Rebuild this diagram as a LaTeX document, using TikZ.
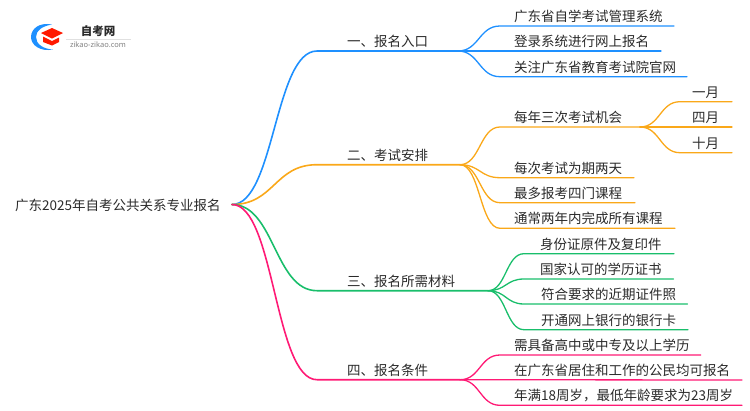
\documentclass[tikz,border=0pt]{standalone}
\usepackage{fontspec}
\setmainfont{Noto Sans CJK SC}
\setsansfont{Noto Sans}
\definecolor{cblue}{HTML}{1E90FF}
\definecolor{corange}{HTML}{FAA819}
\definecolor{cgreen}{HTML}{19BE6B}
\definecolor{cpink}{HTML}{FF1A75}
\definecolor{ctext}{HTML}{2A2A2A}
\tikzset{
  x=1pt,y=-1pt,
  lbl/.style={font=\fontsize{13.5}{14}\selectfont,text=ctext,inner sep=0pt,anchor=base west},
  link/.style={line width=1.3pt,line cap=round},
  trunk/.style={line width=1.6pt,line cap=round},
}
\begin{document}
\begin{tikzpicture}
\useasboundingbox (0,0) rectangle (750,410);
% logo
\fill[cblue] (52,24.5) .. controls (39,22) and (31,29) .. (31,37) .. controls (31,45) and (40,52) .. (53,49.5) .. controls (43,49) and (36,44) .. (36,37) .. controls (36,30) and (43,26) .. (52,24.5) -- cycle;
\fill[red!80!orange] (41,33) -- (52,28) -- (63,33) -- (52,38.5) -- cycle;
\fill[red!80!orange] (43,36.5) -- (52,41) -- (59,37.5) -- (59,42) -- (52,45.5) -- (43,42) -- cycle;
\node[font=\fontsize{11.5}{12}\selectfont\bfseries,text=ctext,inner sep=0pt] (logotitle) at (98,31) {自考网};
\node[font=\sffamily\fontsize{7.5}{8}\selectfont,text=gray,inner sep=0pt] (logourl) at (98,45) {zikao-zikao.com};
\draw[black!12,line width=.6pt] (66,39) -- (131,39);
% root
\node[lbl] (root) at (15,210) {广东2025年自考公共关系专业报名};
\coordinate (R) at (232,204.5);
% level one
\coordinate (A0) at (317,51); \coordinate (A) at (458,51);
\coordinate (B0) at (317,164.7); \coordinate (B) at (460,164.7);
\coordinate (C0) at (317,290.7); \coordinate (C) at (488,290.7);
\coordinate (D0) at (317,379.7); \coordinate (D) at (460,379.7);
\node[lbl] (a) at (347,46.5) {一、报名入口};
\node[lbl] (b) at (347,160.5) {二、考试安排};
\node[lbl] (c) at (347,286.5) {三、报名所需材料};
\node[lbl] (d) at (347,375.5) {四、报名条件};
\draw[trunk,cblue] (R) .. controls +(42.5,0) and +(-42.5,0) .. (A0) -- (A);
\draw[trunk,corange] (R) .. controls +(42.5,0) and +(-42.5,0) .. (B0) -- (B);
\draw[trunk,cgreen] (R) .. controls +(42.5,0) and +(-42.5,0) .. (C0) -- (C);
\draw[trunk,cpink] (R) .. controls +(42.5,0) and +(-42.5,0) .. (D0) -- (D);
% blue leaves
\node[lbl] (a1) at (514,21.5) {广东省自学考试管理系统};
\node[lbl] (a2) at (514,46.5) {登录系统进行网上报名};
\node[lbl] (a3) at (514,72.5) {关注广东省教育考试院官网};
\coordinate (a1s) at (500,26); \coordinate (a1e) at (674,26);
\coordinate (a2e) at (661,51);
\coordinate (a3s) at (500,76.7); \coordinate (a3e) at (687,76.7);
\draw[link,cblue] (A) .. controls +(21,0) and +(-21,0) .. (a1s) -- (a1e);
\draw[link,cblue] (A) -- (a2e);
\draw[link,cblue] (A) .. controls +(21,0) and +(-21,0) .. (a3s) -- (a3e);
% orange leaves
\node[lbl] (b1) at (514,122.5) {每年三次考试机会};
\node[lbl] (b2) at (514,173) {每次考试为期两天};
\node[lbl] (b3) at (514,198) {最多报考四门课程};
\node[lbl] (b4) at (514,223.5) {通常两年内完成所有课程};
\coordinate (b1s) at (500,127); \coordinate (b1e) at (640,127);
\coordinate (b2s) at (500,177.7); \coordinate (b2e) at (634,177.7);
\coordinate (b3s) at (500,202.7); \coordinate (b3e) at (635,202.7);
\coordinate (b4s) at (500,228.3); \coordinate (b4e) at (675,228.3);
\draw[link,corange] (B) .. controls +(20,0) and +(-20,0) .. (b1s) -- (b1e);
\draw[link,corange] (B) .. controls +(20,0) and +(-20,0) .. (b2s) -- (b2e);
\draw[link,corange] (B) .. controls +(20,0) and +(-20,0) .. (b3s) -- (b3e);
\draw[link,corange] (B) .. controls +(20,0) and +(-20,0) .. (b4s) -- (b4e);
% months
\node[lbl] (m1) at (692,97) {一月};
\node[lbl] (m2) at (692,122.5) {四月};
\node[lbl] (m3) at (692,148) {十月};
\coordinate (m1s) at (680,101.7); \coordinate (m1e) at (732,101.7);
\coordinate (m2e) at (732,127);
\coordinate (m3s) at (680,152.7); \coordinate (m3e) at (732,152.7);
\draw[link,corange] (b1e) .. controls +(20,0) and +(-20,0) .. (m1s) -- (m1e);
\draw[link,corange] (b1e) -- (m2e);
\draw[link,corange] (b1e) .. controls +(20,0) and +(-20,0) .. (m3s) -- (m3e);
% green leaves
\node[lbl] (c1) at (540,249) {身份证原件及复印件};
\node[lbl] (c2) at (540,274.5) {国家认可的学历证书};
\node[lbl] (c3) at (541,299.5) {符合要求的近期证件照};
\node[lbl] (c4) at (541,325) {开通网上银行的银行卡};
\coordinate (c1s) at (524,253.7); \coordinate (c1e) at (674,253.7);
\coordinate (c2s) at (524,279); \coordinate (c2e) at (673.5,279);
\coordinate (c3s) at (524,304); \coordinate (c3e) at (687.5,304);
\coordinate (c4s) at (524,329.7); \coordinate (c4e) at (688,329.7);
\draw[link,cgreen] (C) .. controls +(18,0) and +(-18,0) .. (c1s) -- (c1e);
\draw[link,cgreen] (C) .. controls +(18,0) and +(-18,0) .. (c2s) -- (c2e);
\draw[link,cgreen] (C) .. controls +(18,0) and +(-18,0) .. (c3s) -- (c3e);
\draw[link,cgreen] (C) .. controls +(18,0) and +(-18,0) .. (c4s) -- (c4e);
% pink leaves
\node[lbl] (d1) at (514,350.5) {需具备高中或中专及以上学历};
\node[lbl] (d2) at (514,375.5) {在广东省居住和工作的公民均可报名};
\node[lbl] (d3) at (514,400.5) {年满18周岁，最低年龄要求为23周岁};
\coordinate (d1s) at (500,355); \coordinate (d1e) at (700.7,355);
\coordinate (d2e) at (742,380);
\coordinate (d3s) at (500,405.3); \coordinate (d3e) at (742,405.3);
\draw[link,cpink] (D) .. controls +(20,0) and +(-20,0) .. (d1s) -- (d1e);
\draw[link,cpink] (D) -- (d2e);
\draw[link,cpink] (D) .. controls +(20,0) and +(-20,0) .. (d3s) -- (d3e);
\end{tikzpicture}
\end{document}
